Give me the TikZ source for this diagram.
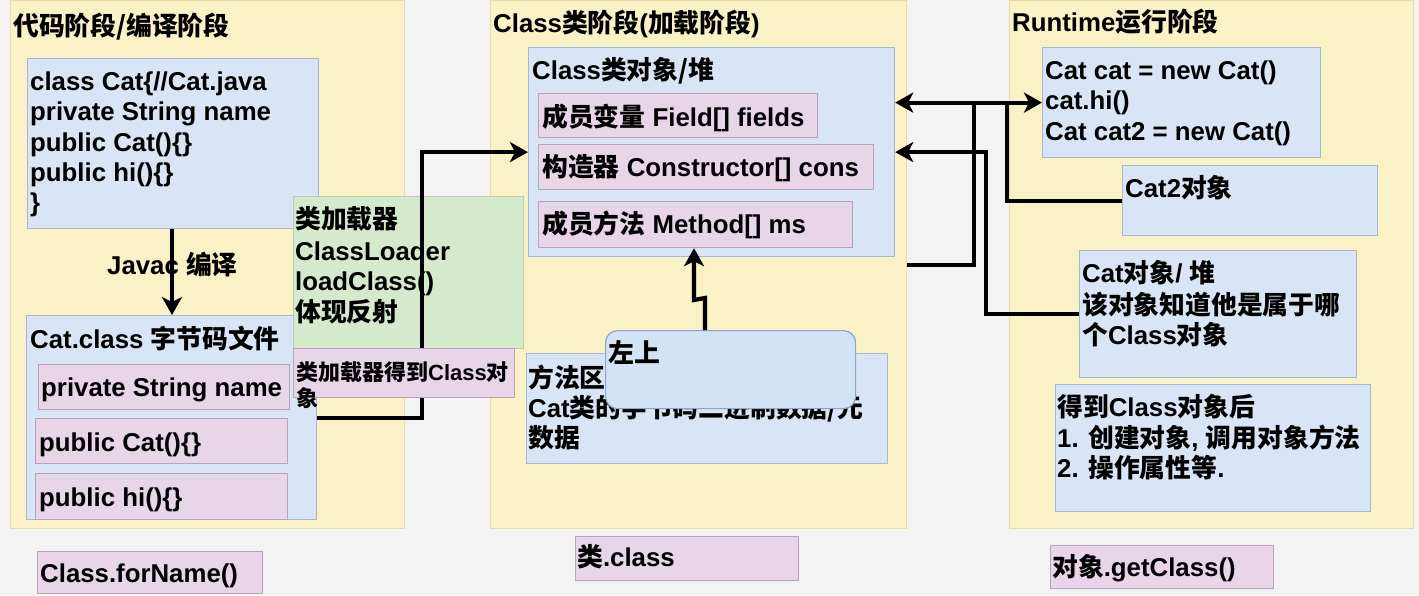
\documentclass[tikz,border=0pt]{standalone}
\usepackage{fontspec}
\setmainfont{Liberation Sans}
\newfontfamily\zhfont{Noto Sans CJK SC}
\usetikzlibrary{arrows.meta,calc}
\newcommand\zh[1]{{\zhfont\bfseries #1}}
\definecolor{bgc}{HTML}{F3F3F3}
\definecolor{panelf}{HTML}{FBF1C6}
\definecolor{paneld}{HTML}{E9DDA5}
\definecolor{bluef}{HTML}{D7E5F6}
\definecolor{blued}{HTML}{A6B9CF}
\definecolor{pinkf}{HTML}{E8D5E8}
\definecolor{pinkd}{HTML}{B9A3BC}
\definecolor{greenf}{HTML}{D5EACD}
\definecolor{greend}{HTML}{B5CCAD}
\definecolor{lbluef}{HTML}{D3E3F6}
\definecolor{lblued}{HTML}{8EA6C3}
\tikzset{
  box/.style={anchor=north west, inner sep=0pt, line width=1.2pt},
  panel/.style={box, fill=panelf, draw=paneld},
  bluebox/.style={box, fill=bluef, draw=blued},
  pinkbox/.style={box, fill=pinkf, draw=pinkd},
  greenbox/.style={box, fill=greenf, draw=greend},
  roundbox/.style={box, fill=lbluef, draw=lblued, rounded corners=12pt},
  txt/.style={anchor=base west, inner sep=0pt, font=\fontsize{25.8}{30}\selectfont\bfseries},
  smalltxt/.style={anchor=base west, inner sep=0pt, font=\fontsize{22}{27}\selectfont\bfseries},
  conn/.style={line width=4.2pt, black},
  arr/.style={conn, -{Stealth[length=18pt,width=20pt,inset=5pt]}},
  arrboth/.style={conn, {Stealth[length=18pt,width=20pt,inset=5pt]}-{Stealth[length=18pt,width=20pt,inset=5pt]}}
}
\begin{document}
\begin{tikzpicture}[x=1pt,y=-1pt]
\useasboundingbox (0,0) rectangle (1419,595);
\fill[bgc] (0,0) rectangle (1419,595);
% panels
\node[panel, minimum width=394, minimum height=528] (P1) at (10,0) {};
\node[panel, minimum width=416, minimum height=528] (P2) at (490,0) {};
\node[panel, minimum width=404, minimum height=528] (P3) at (1009,0) {};
\node[txt] (t1) at (13,35) {\zh{代码阶段/编译阶段}};
\node[txt] (t2) at (493,32) {Class\zh{类阶段}(\zh{加载阶段})};
\node[txt] (t3) at (1012,31) {Runtime\zh{运行阶段}};
% panel 1
\node[bluebox, minimum width=291, minimum height=170] (A) at (27,58) {};
\node[txt] (a1) at (30,90) {class Cat\{//Cat.java};
\node[txt] (a2) at (30,120) {private String name};
\node[txt] (a3) at (30,151) {public Cat()\{\}};
\node[txt] (a4) at (30,181) {public hi()\{\}};
\node[txt] (a5) at (30,211) {\}};
\node[bluebox, minimum width=290, minimum height=204] (B) at (26,315) {};
\node[txt] (b0) at (30,348) {Cat.class \zh{字节码文件}};
\node[pinkbox, minimum width=251, minimum height=45] (B1) at (38,364) {};
\node[txt] (b1) at (41,396) {private String name};
\node[pinkbox, minimum width=252, minimum height=45] (B2) at (35,418) {};
\node[txt] (b2) at (39,451) {public Cat()\{\}};
\node[pinkbox, minimum width=252, minimum height=46] (B3) at (35,473) {};
\node[txt] (b3) at (39,506) {public hi()\{\}};
\node[txt] (jv) at (107,274) {Javac \zh{编译}};
\coordinate (jx) at (172,0);
\draw[arr] (A.south -| jx) -- (B.north -| jx);
\node[greenbox, minimum width=230, minimum height=152] (G) at (293,196) {};
\node[txt] (g1) at (295,228) {\zh{类加载器}};
\node[txt] (g2) at (295,260) {ClassLoader};
\node[txt] (g3) at (295,290) {loadClass()};
\node[txt] (g4) at (295,321) {\zh{体现反射}};
\node[pinkbox, minimum width=225, minimum height=42] (F1) at (37,551) {};
\node[txt] (f1) at (40,582) {Class.forName()};
% panel 2
\node[bluebox, minimum width=366, minimum height=209] (C) at (528,47) {};
\node[txt] (c0) at (532,79) {Class\zh{类对象/堆}};
\node[pinkbox, minimum width=279, minimum height=44] (C1) at (538,93) {};
\node[txt] (c1) at (542,126) {\zh{成员变量} Field[] fields};
\node[pinkbox, minimum width=335, minimum height=45] (C2) at (538,144) {};
\node[txt] (c2) at (542,176) {\zh{构造器} Constructor[] cons};
\node[pinkbox, minimum width=314, minimum height=46] (C3) at (538,201) {};
\node[txt] (c3) at (542,233) {\zh{成员方法} Method[] ms};
% loader connector
\coordinate (lx) at (422,0);
\draw[arr] (B.east) -| (lx |- C.west) -- (C.west);
\node[pinkbox, minimum width=221, minimum height=49] (LP) at (293,348) {};
\node[smalltxt] (lp1) at (296,380) {\zh{类加载器得到}Class\zh{对}};
\node[smalltxt] (lp2) at (296,406) {\zh{象}};
% method area
\node[bluebox, minimum width=361, minimum height=110] (MA) at (526,353) {};
\node[txt] (m1) at (528,387) {\zh{方法区}};
\node[txt] (m2) at (528,417) {Cat\zh{类的字节码二进制数据/元}};
\node[txt] (m3) at (528,447) {\zh{数据}};
\node[roundbox, minimum width=250, minimum height=78] (L) at (605,330) {};
\node[txt] (l1) at (608,362) {\zh{左上}};
\coordinate (j1) at (705,298);
\coordinate (j2) at (694,300);
\draw[arr] (L.north -| j1) -- (j1) -- (j2) -- (C3.south -| j2);
\node[pinkbox, minimum width=223, minimum height=44] (F2) at (575,536) {};
\node[txt] (f2) at (577,566) {\zh{类}.class};
% panel 3
\node[bluebox, minimum width=278, minimum height=110] (R1) at (1042,47) {};
\node[txt] (r1) at (1045,79) {Cat cat = new Cat()};
\node[txt] (r2) at (1045,109) {cat.hi()};
\node[txt] (r3) at (1045,140) {Cat cat2 = new Cat()};
\node[bluebox, minimum width=255, minimum height=70] (T) at (1122,165) {};
\node[txt] (tt) at (1125,197) {Cat2\zh{对象}};
\node[bluebox, minimum width=277, minimum height=127] (K) at (1079,250) {};
\node[txt] (k1) at (1082,282) {Cat\zh{对象}/ \zh{堆}};
\node[txt] (k2) at (1082,314) {\zh{该对象知道他是属于哪}};
\node[txt] (k3) at (1082,344) {\zh{个}Class\zh{对象}};
\node[bluebox, minimum width=315, minimum height=127] (H) at (1055,384) {};
\node[txt] (h1) at (1057,416) {\zh{得到}Class\zh{对象后}};
\node[txt] (h2) at (1057,447) {1. \zh{创建对象}, \zh{调用对象方法}};
\node[txt] (h3) at (1057,477) {2. \zh{操作属性等}.};
\node[pinkbox, minimum width=223, minimum height=43] (F3) at (1050,545) {};
\node[txt] (f3) at (1052,576) {\zh{对象}.getClass()};
% right connectors
\coordinate (v1) at (974,0);
\coordinate (v2) at (986,0);
\coordinate (v3) at (1007,0);
\draw[conn] (P2.east) -| (v1 |- R1.west);
\draw[conn] (T.west) -| (v3 |- R1.west);
\draw[arrboth] (C.east |- R1.west) -- (R1.west);
\draw[arr] (K.west) -| (v2 |- C.east) -- (C.east);
\end{tikzpicture}
\end{document}
